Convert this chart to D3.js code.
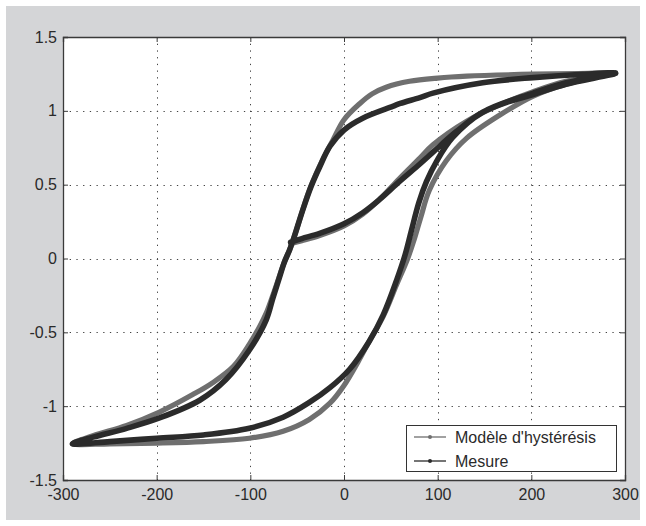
<!DOCTYPE html>
<html><head><meta charset="utf-8">
<script src="https://cdn.jsdelivr.net/npm/d3@7"></script>
<style>body{margin:0;background:#fff} svg{display:block} text{font-family:"Liberation Sans",Arial,sans-serif;fill:#2a2a2a}</style>
</head><body><svg id="c" width="646" height="526"></svg>
<script>
const xTicks = [-300, -200, -100, 0, 100, 200, 300];
const yTicks = [-1.5, -1, -0.5, 0, 0.5, 1, 1.5];
const seriesNames = ["Modèle d'hystérésis", "Mesure"];

// Modèle d'hystérésis (gris) : courbe initiale, branche descendante, branche montante
const modelH = [-57,-45,-26,0,20,38,59,81,95,131,166,202,237,290,
  250,202,131,100,70,45,30,17,0,-12,-22,-30,-36,-44,-53,-58,-64,-70,-76,-83,-90,-101,-118,-140,-161,-197,-232,-268,-290,
  -250,-200,-150,-101,-65,-37,-15,0,15,27,42,56,68,75,82,91,109,131,166,202,237,290];
const modelB = [0.10,0.12,0.155,0.22,0.30,0.40,0.54,0.68,0.77,0.93,1.04,1.13,1.20,1.255,
  1.252,1.248,1.235,1.222,1.20,1.16,1.115,1.05,0.94,0.80,0.68,0.57,0.48,0.33,0.15,0.06,-0.03,-0.14,-0.25,-0.37,-0.46,-0.58,-0.73,-0.84,-0.92,-1.04,-1.13,-1.20,-1.255,
  -1.255,-1.25,-1.24,-1.217,-1.17,-1.09,-0.98,-0.86,-0.70,-0.56,-0.39,-0.18,0.0,0.13,0.28,0.46,0.66,0.815,0.97,1.10,1.18,1.255];

// Mesure (noir)
const mesureH = [-57,-45,-26,0,20,38,59,81,95,120,148,175,202,237,290,
  255,202,148,95,81,60,52,20,0,-15,-26,-35,-44,-53,-58,-64,-69,-76,-83,-101,-126,-154,-197,-232,-268,-290,
  -250,-200,-150,-101,-65,-37,-15,6,27,42,56,65,72,80,88,99,116,148,202,237,290];
const mesureB = [0.11,0.135,0.17,0.235,0.31,0.40,0.52,0.64,0.72,0.86,0.99,1.06,1.11,1.18,1.255,
  1.248,1.225,1.19,1.12,1.09,1.05,1.03,0.95,0.87,0.76,0.62,0.49,0.33,0.15,0.06,-0.03,-0.13,-0.27,-0.415,-0.62,-0.82,-0.96,-1.08,-1.15,-1.21,-1.255,
  -1.24,-1.217,-1.195,-1.15,-1.075,-0.975,-0.875,-0.75,-0.56,-0.38,-0.15,0.02,0.19,0.38,0.52,0.66,0.82,0.99,1.12,1.19,1.255];

const seriesColors = ["#6f6f6f", "#2b2b2b"];

const svg = d3.select("#c");
const W = 646, H = 526;
const L = 63, R = 625, T = 37, B = 480;
const x = d3.scaleLinear().domain([-300, 300]).range([L, R]);
const y = d3.scaleLinear().domain([-1.5, 1.5]).range([B, T]);

// figure background
svg.append("rect").attr("x", 6).attr("y", 6).attr("width", W - 12).attr("height", H - 12).attr("fill", "#d4d5d7");
svg.append("rect").attr("x", L).attr("y", T).attr("width", R - L).attr("height", B - T).attr("fill", "#fff");

// grid
const grid = svg.append("g").attr("stroke", "#444").attr("stroke-width", 1).attr("stroke-dasharray", "1.3,5.4");
grid.selectAll(".gx").data(xTicks.slice(1, -1)).join("line")
  .attr("x1", d => Math.round(x(d)) + 0.5).attr("x2", d => Math.round(x(d)) + 0.5).attr("y1", T).attr("y2", B);
grid.selectAll(".gy").data(yTicks.slice(1, -1)).join("line")
  .attr("y1", d => Math.round(y(d)) + 0.5).attr("y2", d => Math.round(y(d)) + 0.5).attr("x1", L).attr("x2", R);

// curves
const line = d3.line().curve(d3.curveCatmullRom.alpha(0.5));
const series = [
  {name: seriesNames[0], color: seriesColors[0], w: 5.2, pts: modelH.map((h, i) => [x(h), y(modelB[i])])},
  {name: seriesNames[1], color: seriesColors[1], w: 5.6, pts: mesureH.map((h, i) => [x(h), y(mesureB[i])])}
];
series.forEach(s => {
  svg.append("path").attr("d", line(s.pts)).attr("fill", "none").attr("stroke", s.color)
    .attr("stroke-width", s.w).attr("stroke-linejoin", "round").attr("stroke-linecap", "round");
});

// axes (ticks inward on all four sides)
const fmt = d => String(d);
const axB = d3.axisBottom(x).tickValues(xTicks).tickSize(-5).tickPadding(9).tickFormat(fmt);
const axL = d3.axisLeft(y).tickValues(yTicks).tickSize(-5).tickPadding(6).tickFormat(fmt);
const axT = d3.axisTop(x).tickValues(xTicks).tickSize(-5).tickFormat("");
const axR = d3.axisRight(y).tickValues(yTicks).tickSize(-5).tickFormat("");
function style(g) {
  g.select(".domain").attr("stroke", "#3a3a3a").attr("stroke-width", 1.3);
  g.selectAll(".tick line").attr("stroke", "#3a3a3a");
  g.selectAll("text").attr("font-size", 16).attr("font-family", "'Liberation Sans', Arial, sans-serif").attr("fill", "#2a2a2a");
}
svg.append("g").attr("transform", `translate(0,${B})`).call(axB).call(style);
svg.append("g").attr("transform", `translate(${L},0)`).call(axL).call(style);
svg.append("g").attr("transform", `translate(0,${T})`).call(axT).call(style);
svg.append("g").attr("transform", `translate(${R},0)`).call(axR).call(style);

// legend
const lg = svg.append("g");
lg.append("rect").attr("x", 406.5).attr("y", 425.5).attr("width", 210).attr("height", 46)
  .attr("fill", "#fff").attr("stroke", "#333").attr("stroke-width", 1);
series.forEach((s, i) => {
  const yy = 437 + i * 24;
  lg.append("line").attr("x1", 414).attr("x2", 446).attr("y1", yy).attr("y2", yy).attr("stroke", s.color).attr("stroke-width", 1.3);
  lg.append("circle").attr("cx", 430).attr("cy", yy).attr("r", 2).attr("fill", s.color);
  lg.append("text").attr("x", 455).attr("y", yy + 6).attr("font-size", 16).text(s.name);
});
</script></body></html>
